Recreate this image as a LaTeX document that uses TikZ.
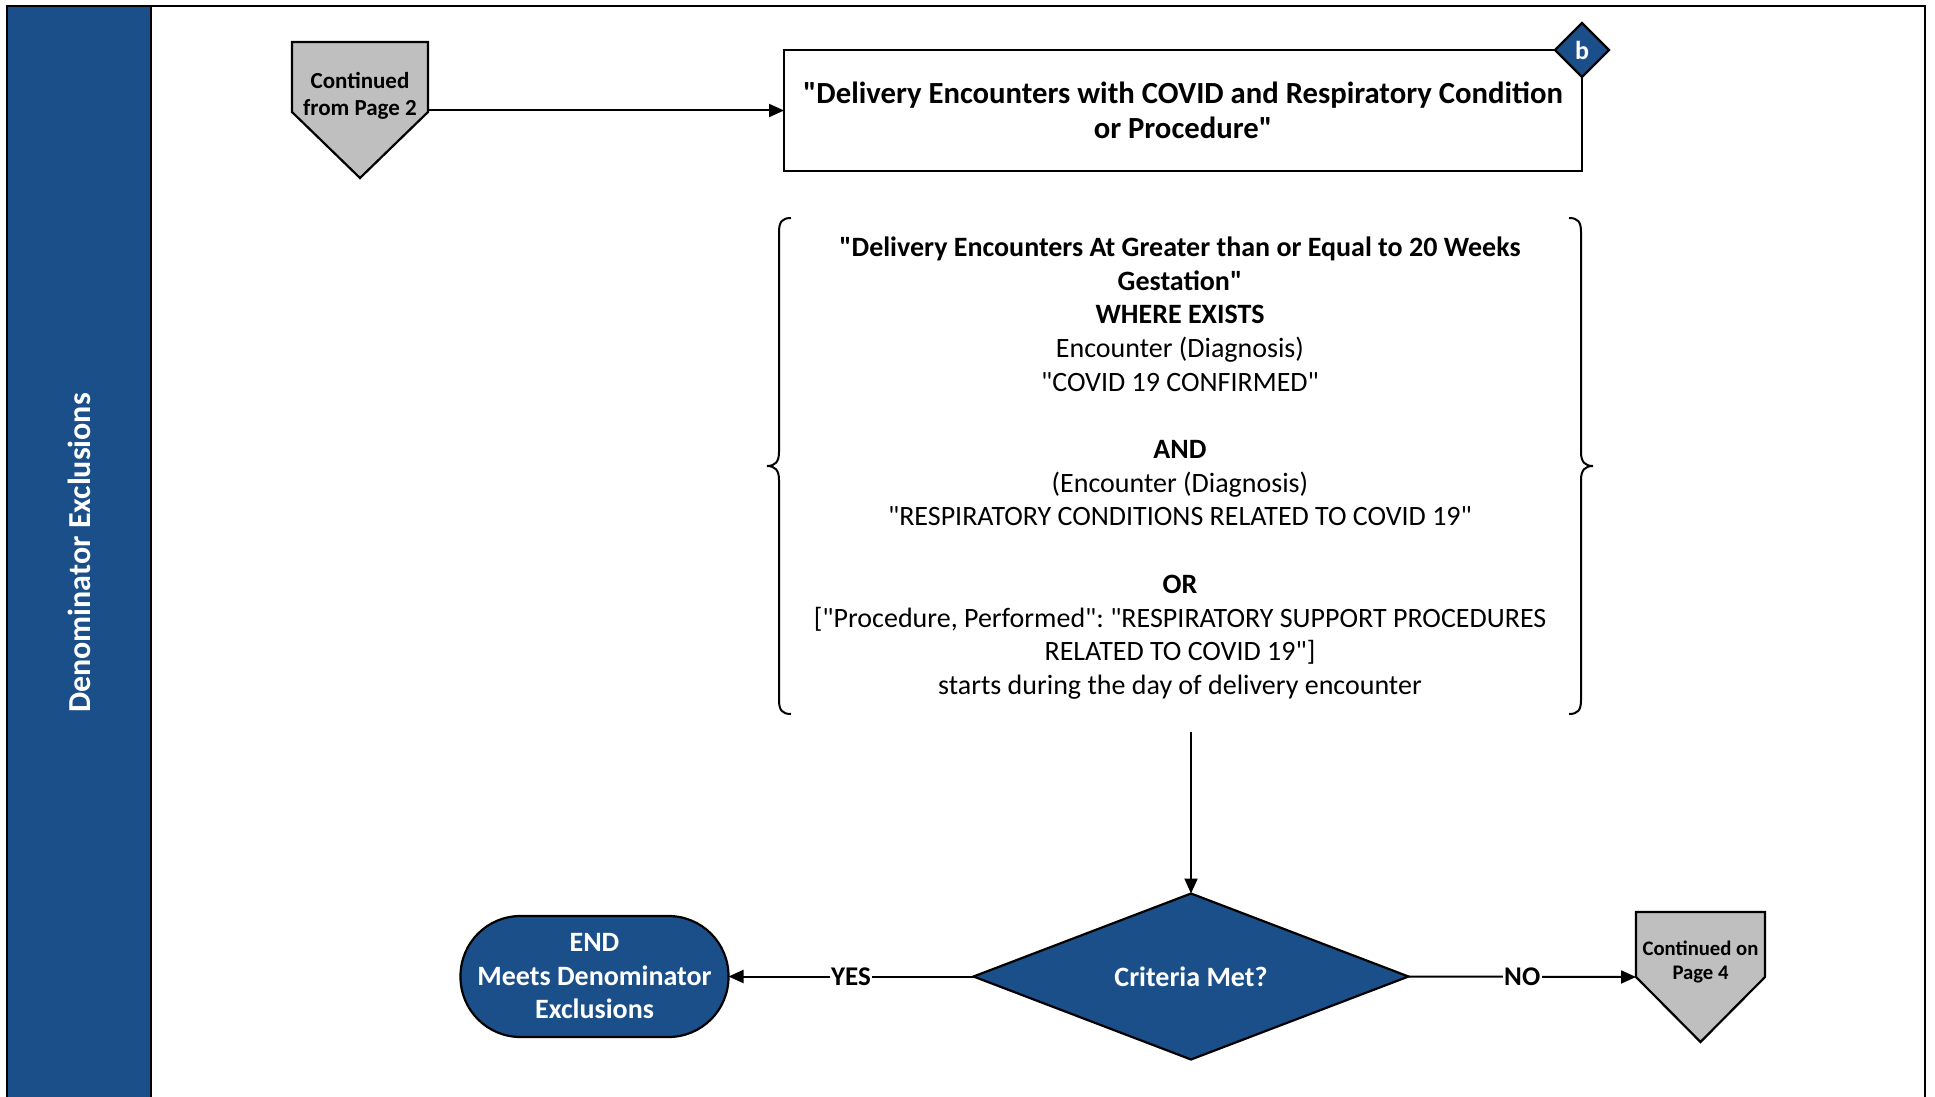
\documentclass[tikz,border=0pt]{standalone}
\usepackage{fontspec}
\setmainfont{Carlito}[Ligatures=TeXOff]
\usetikzlibrary{shapes.geometric,arrows.meta,calc}
\definecolor{bandblue}{RGB}{27,79,138}
\definecolor{pagegray}{RGB}{191,191,191}
\frenchspacing
\begin{document}
\begin{tikzpicture}[x=1pt,y=-1pt,
  every node/.style={inner sep=0pt, outer sep=0pt},
  arr/.style={draw=black, line width=2pt, -{Triangle[length=15pt,width=13pt]}},
  lab/.style={fill=white, font=\fontsize{27}{30}\selectfont\bfseries, inner sep=1.5pt},
  shapeline/.style={line width=2.2pt},
  btxt/.style={font=\fontsize{28}{33.7}\selectfont, align=center},
]
\useasboundingbox (0,0) rectangle (1935,1097);
\begin{scope}
  \clip (0,0) rectangle (1935,1097);
  \draw[line width=2pt] (7,6) rectangle (1925,1120);
  \draw[line width=2pt, fill=bandblue] (7,6) rectangle (151,1120);
\end{scope}
\node[rotate=90, text=white, font=\fontsize{32}{38}\selectfont\bfseries] (lane) at (79,553) {Denominator Exclusions};

% Continued from Page 2
\node[minimum width=136pt, minimum height=70pt] (cont2) at (360,77) {};
\draw[shapeline, fill=pagegray] (cont2.north west) -- (cont2.north east) -- (cont2.south east)
  -- ($(cont2.south)+(0,66)$) -- (cont2.south west) -- cycle;
\node[font=\fontsize{23}{27}\selectfont\bfseries, align=center] (cont2t) at (360,95.5) {Continued\\from Page 2};

% Top box
\node[draw, shapeline, minimum width=798pt, minimum height=121pt,
  font=\fontsize{30.7}{35.5}\selectfont\bfseries, align=center] (top) at (1183,110.5)
  {"Delivery Encounters with COVID and Respiratory Condition\\or Procedure"};
\node[diamond, draw, shapeline, fill=bandblue, minimum width=54pt, minimum height=54pt,
  text=white, font=\fontsize{26}{28}\selectfont\bfseries] (tagb) at (top.north east) {b};

\draw[arr] (cont2.south east |- top.west) -- (top.west);

% Criteria text with braces
\node[btxt] (cond) at (1180,468) {%
  \textbf{"Delivery Encounters At Greater than or Equal to 20 Weeks}\\
  \textbf{Gestation"}\\
  \textbf{WHERE EXISTS}\\
  Encounter (Diagnosis)\\
  "COVID 19 CONFIRMED"\\[33.7pt]
  \textbf{AND}\\
  (Encounter (Diagnosis)\\
  "RESPIRATORY CONDITIONS RELATED TO COVID 19"\\[33.7pt]
  \textbf{OR}\\
  {[}"Procedure, Performed": "RESPIRATORY SUPPORT PROCEDURES\\
  RELATED TO COVID 19"]\\
  starts during the day of delivery encounter};
\draw[line width=2pt] (791,218) .. controls (782,218) and (779,222) .. (779,232) -- (779,452)
  .. controls (779,462) and (775,466) .. (767,466) .. controls (775,466) and (779,470) .. (779,480)
  -- (779,700) .. controls (779,710) and (782,714) .. (791,714);
\draw[line width=2pt] (1569,218) .. controls (1578,218) and (1581,222) .. (1581,232) -- (1581,452)
  .. controls (1581,462) and (1585,466) .. (1593,466) .. controls (1585,466) and (1581,470) .. (1581,480)
  -- (1581,700) .. controls (1581,710) and (1578,714) .. (1569,714);
\coordinate (condout) at (1191,732);

% Decision
\node[diamond, draw, shapeline, fill=bandblue, aspect=2.62, minimum width=435pt, minimum height=166pt,
  text=white, font=\fontsize{28}{32}\selectfont\bfseries] (dec) at (1191,976.5) {Criteria Met?};
\draw[arr] (condout) -- (dec.north);

% END
\node[draw, shapeline, fill=bandblue, rounded corners=60pt, minimum width=268pt, minimum height=121pt,
  text=white, font=\fontsize{28}{33.5}\selectfont\bfseries, align=center] (end) at (594.5,976.5)
  {END\\Meets Denominator\\Exclusions};
\draw[arr] (dec.west) -- node[lab] {YES} (end.east);

% Continued on Page 4
\node[minimum width=129pt, minimum height=65pt] (cont4) at (1700.5,944.5) {};
\draw[shapeline, fill=pagegray] (cont4.north west) -- (cont4.north east) -- (cont4.south east)
  -- ($(cont4.south)+(0,65)$) -- (cont4.south west) -- cycle;
\node[font=\fontsize{20.7}{24}\selectfont\bfseries, align=center] (cont4t) at (1700.5,962) {Continued on\\Page 4};
\draw[arr] (dec.east) -- node[lab] {NO} (cont4.south west);
\end{tikzpicture}
\end{document}
